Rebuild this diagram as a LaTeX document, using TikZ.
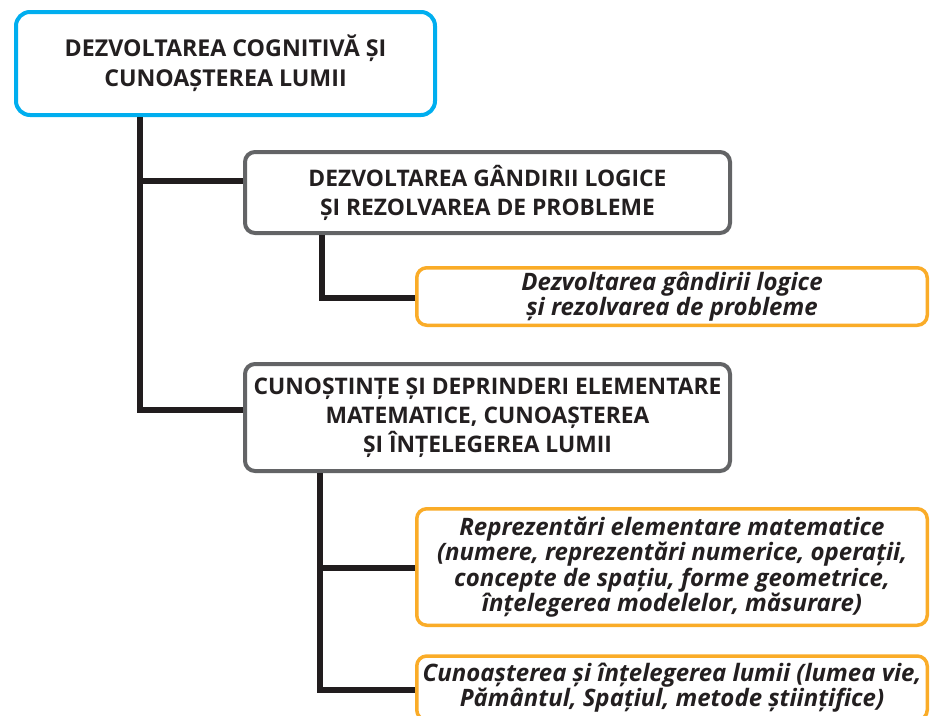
\documentclass[tikz,border=0pt]{standalone}
\usepackage{fontspec}
\setmainfont{Open Sans}
\definecolor{cblue}{RGB}{0,174,239}
\definecolor{cgray}{RGB}{99,100,102}
\definecolor{corange}{RGB}{250,172,40}
\definecolor{ctext}{RGB}{35,31,32}
\begin{document}
\begin{tikzpicture}[x=1pt,y=1pt,
  box/.style={rectangle, fill=white, align=center, inner sep=0pt, text=ctext},
  topbox/.style={box, draw=cblue, line width=4pt, rounded corners=14pt, font=\bfseries\fontsize{23.2}{30}\selectfont},
  graybox/.style={box, draw=cgray, line width=4pt, rounded corners=10pt, font=\bfseries\fontsize{22.8}{29}\selectfont},
  orbox/.style={box, draw=corange, line width=3.5pt, rounded corners=10pt, font=\bfseries\itshape\fontsize{24}{25.3}\selectfont},
  conn/.style={line width=6pt, draw=ctext!95!black}]
\useasboundingbox (0,0) rectangle (931,-715);
\node[topbox, minimum width=419pt, minimum height=103pt] (top) at (225.5,-63.5)
  {DEZVOLTAREA COGNITIVĂ ȘI\\CUNOAȘTEREA LUMII};
\node[graybox, minimum width=485pt, minimum height=81pt] (g1) at (487.5,-192.5)
  {DEZVOLTAREA GÂNDIRII LOGICE\\ȘI REZOLVAREA DE PROBLEME};
\node[orbox, minimum width=510.5pt, minimum height=57.5pt] (o1) at (672,-296.5)
  {Dezvoltarea gândirii logice\\și rezolvarea de probleme};
\node[graybox, minimum width=485pt, minimum height=107pt] (g2) at (487.5,-417.5)
  {CUNOȘTINȚE ȘI DEPRINDERI ELEMENTARE\\MATEMATICE, CUNOAȘTEREA\\ȘI ÎNȚELEGEREA LUMII};
\node[orbox, minimum width=510.5pt, minimum height=116.5pt] (o2) at (672,-567)
  {Reprezentări elementare matematice\\(numere, reprezentări numerice, operații,\\concepte de spațiu, forme geometrice,\\înțelegerea modelelor, măsurare)};
\node[orbox, minimum width=510.5pt, minimum height=64pt] (o3) at (672,-688)
  {Cunoașterea și înțelegerea lumii (lumea vie,\\Pământul, Spațiul, metode științifice)};
% connectors
\coordinate (tr) at ([xshift=126pt]top.south west);
\coordinate (b1) at ([yshift=11.5pt]g1.west);
\coordinate (b2) at ([yshift=7.5pt]g2.west);
\draw[conn] (tr) |- (b2);
\draw[conn] (tr |- b1) -- (b1);
\coordinate (tr2) at ([xshift=79pt]g1.south west);
\coordinate (c1) at ([yshift=-1.5pt]o1.west);
\draw[conn] (tr2) |- (c1);
\coordinate (tr3) at ([xshift=77pt]g2.south west);
\coordinate (d2) at ([yshift=-1pt]o2.west);
\coordinate (d3) at ([yshift=-2pt]o3.west);
\draw[conn] (tr3) |- (d3);
\draw[conn] (tr3 |- d2) -- (d2);
\end{tikzpicture}
\end{document}
